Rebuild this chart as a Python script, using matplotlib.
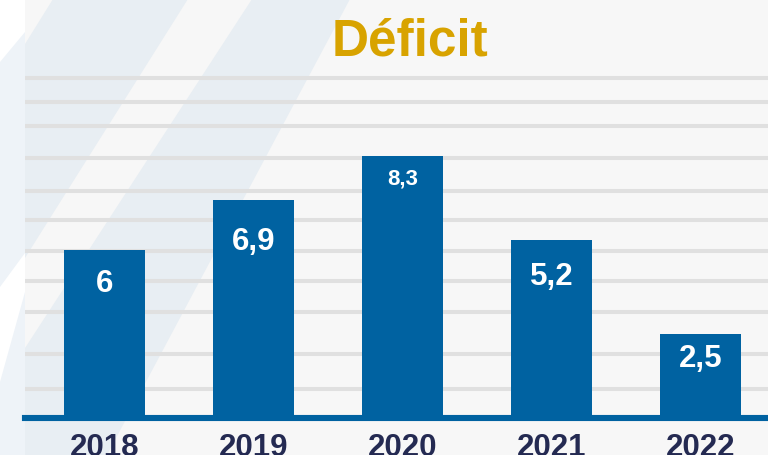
import numpy as np
import matplotlib
matplotlib.use("Agg")
import matplotlib.pyplot as pplt
from matplotlib.patches import Polygon, Rectangle

# Data
years = ["2018", "2019", "2020", "2021", "2022"]
value_labels = ["6", "6,9", "8,3", "5,2", "2,5"]
# bar heights as drawn (the source graphic is not strictly to scale)
bar_heights = [5.31, 6.90, 8.30, 5.63, 2.64]
# horizontal guide lines, same units as the bars
grid_levels = [10.78, 10.02, 9.25, 8.24, 7.19, 6.26, 5.28, 4.32, 3.34, 2.00, 0.89]

title = "Déficit"

# Styles
bar_col = "#0062a1"
title_col = "#d8a300"
year_col = "#242a52"
grid_col = "#e0e0e0"
label_sizes = [22.5, 22.5, 16, 22.5, 22.5]
label_drop = [41, 49, 28, 44, 32]  # px from bar top to text baseline

W, H = 768, 456
fig = pplt.figure(figsize=(W/100, H/100), dpi=100)
pplt.rcParams['font.family'] = ['Liberation Sans', 'DejaVu Sans']

# background: white strip on the left, grey panel with pale diagonal bands
bg = fig.add_axes([0, 0, 1, 1])
bg.set_xlim(0, W)
bg.set_ylim(H, 0)
bg.axis("off")
bg.add_patch(Rectangle((0, 0), W, H, color="white", zorder=0))
bg.add_patch(Polygon([(0, 63), (25, 33), (25, 254), (0, 288)], color="#eef3f8", lw=0, zorder=1))
bg.add_patch(Polygon([(0, 383), (25, 293), (25, H), (0, H)], color="#eef3f8", lw=0, zorder=1))
bg.add_patch(Rectangle((25, 0), W-25, H, color="#f7f7f7", lw=0, zorder=1))
bg.add_patch(Polygon([(53, 0), (188, 0), (25, 259), (25, 45)], color="#e8eef3", lw=0, zorder=2))
bg.add_patch(Polygon([(252, 0), (350, 0), (107, H), (25, H), (25, 349)],
                     color="#e8eef3", lw=0, zorder=2))

# bar panel: x from 25 to 768 px, y from baseline (418 px) up to the top
base_px = 418
ax = fig.add_axes([25/W, (H-base_px)/H, (W-25)/W, base_px/H])
ax.patch.set_alpha(0)
px_per_unit = 31.45
ax.set_ylim(0, base_px/px_per_unit)
spacing = 149.0
x0 = 104.5
ax.set_xlim(-(x0-25)/spacing, (W-x0)/spacing)

for g in grid_levels:
    ax.axhline(g, color=grid_col, lw=2.9, zorder=1)

xs = np.arange(len(years))
bars = ax.bar(xs, bar_heights, width=81/spacing, color=bar_col, zorder=2)
ax.axhline(-0.03, color=bar_col, lw=4.4, zorder=3, clip_on=False)

for i, b in enumerate(bars):
    ax.annotate(value_labels[i], xy=(b.get_x() + b.get_width()/2, b.get_height()),
                xytext=(0, -label_drop[i]), textcoords="offset pixels",
                ha="center", va="baseline", color="white", fontweight="bold",
                fontsize=label_sizes[i], zorder=4)

ax.set_xticks(xs)
ax.set_xticklabels(years, fontsize=22.5, fontweight="bold", color=year_col)
ax.tick_params(axis="x", length=0, pad=11)
ax.set_yticks([])
for s in ax.spines.values():
    s.set_visible(False)

fig.text(410/W, 1 - 56/H, title, ha="center", va="baseline",
         fontsize=37, fontweight="bold", color=title_col)

fig.savefig("out.png", dpi=100)
